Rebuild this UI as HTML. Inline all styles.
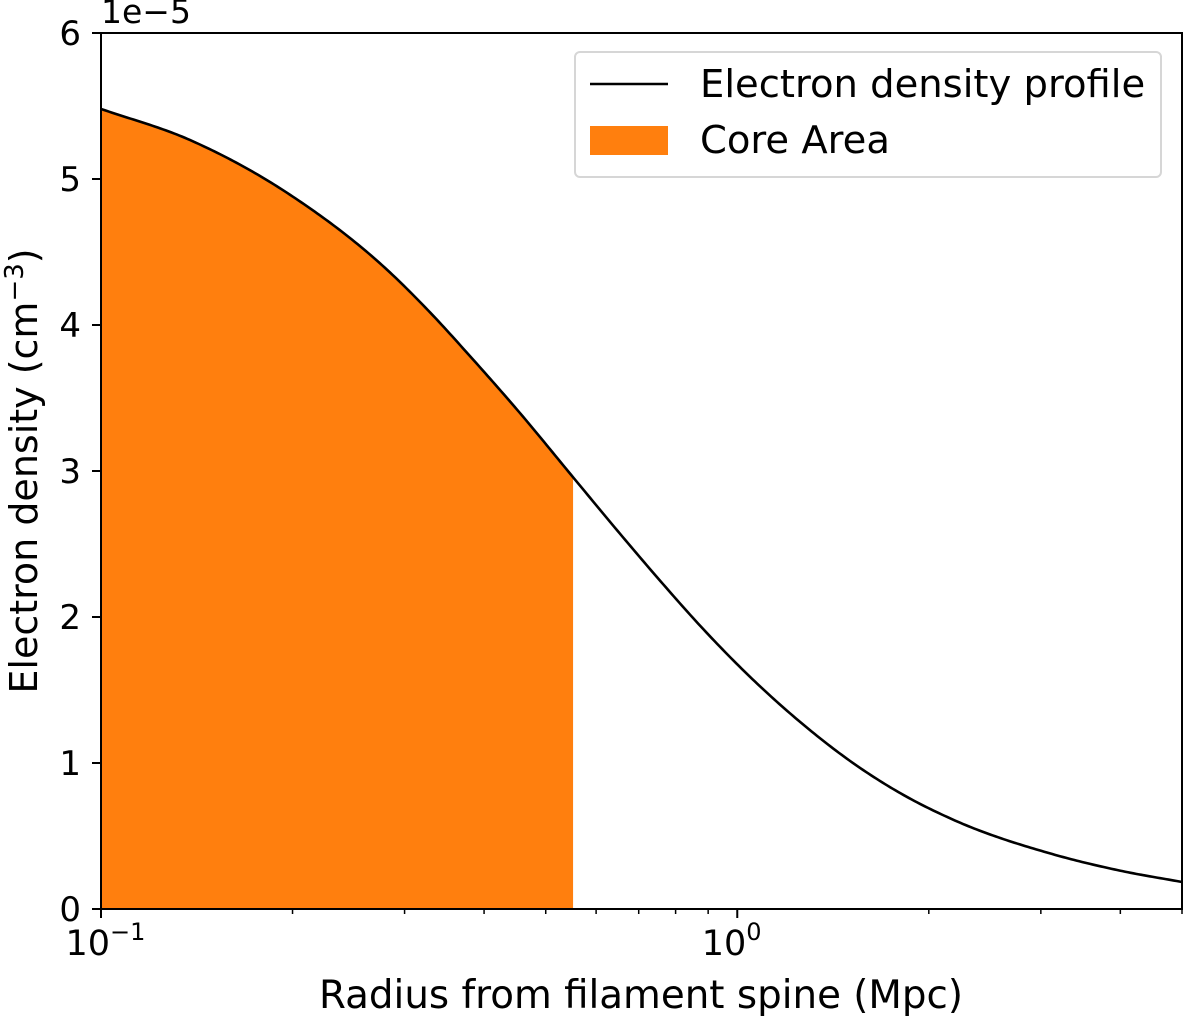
<!DOCTYPE html>
<html><head><meta charset="utf-8"><style>
body{margin:0;background:#fff;position:relative}
svg{display:block;font-family:"DejaVu Sans","Liberation Sans",sans-serif}
</style></head><body>
<svg id="chart" width="1200" height="1018" viewBox="0 0 1200 1018" xmlns="http://www.w3.org/2000/svg">
<g id="plot"></g>
</svg>
<script>
const radii = [0.1, 0.138, 0.1985, 0.2852, 0.3297, 0.3812, 0.4569, 0.5516, 0.6566, 0.7593, 0.8777, 1.052, 1.261, 1.512, 1.813, 2.173, 3.123, 4.024, 5.0];
const densities = [5.48, 5.267, 4.890, 4.356, 4.082, 3.781, 3.390, 2.959, 2.562, 2.240, 1.932, 1.582, 1.274, 1.007, 0.788, 0.616, 0.377, 0.260, 0.185];
const coreRadius = 0.552;
const yTicks = [0, 1, 2, 3, 4, 5, 6];
const xMajorTicks = [0.1, 1];
const xMajorLabels = ["10", "10"];
const xMajorExp = ["\u22121", "0"];
const xMinorTicks = [0.2,0.3,0.4,0.5,0.6,0.7,0.8,0.9,2,3,4,5];

const L=101,R=1182,T=33,B=909;
const xMin=0.1,xMax=5,yMin=0,yMax=6;
const xs=v=>L+(Math.log10(v)-Math.log10(xMin))/(Math.log10(xMax)-Math.log10(xMin))*(R-L);
const ys=v=>B-(v-yMin)/(yMax-yMin)*(B-T);
const NS="http://www.w3.org/2000/svg";
const g=document.getElementById('plot');
function mk(t,a,p){const e=document.createElementNS(NS,t);for(const k in a)e.setAttribute(k,a[k]);(p||g).appendChild(e);return e;}

const lx=radii.map(Math.log10);
const n=lx.length;
const slopes=[];
for(let k=0;k<n-1;k++)slopes.push((densities[k+1]-densities[k])/(lx[k+1]-lx[k]));
const m=[];
for(let k=0;k<n;k++){
  if(k==0)m.push(slopes[0]);
  else if(k==n-1)m.push(slopes[n-2]);
  else {const h0=lx[k]-lx[k-1],h1=lx[k+1]-lx[k];m.push((slopes[k-1]*h1+slopes[k]*h0)/(h0+h1));}
}
function interp(x){
  const t=Math.log10(x);
  let i=0;while(i<n-2&&t>lx[i+1])i++;
  const h=lx[i+1]-lx[i],s=(t-lx[i])/h;
  const h00=2*s*s*s-3*s*s+1,h10=s*s*s-2*s*s+s,h01=-2*s*s*s+3*s*s,h11=s*s*s-s*s;
  return h00*densities[i]+h10*h*m[i]+h01*densities[i+1]+h11*h*m[i+1];
}
const N=400;const pts=[];const fillPts=[];
for(let k=0;k<=N;k++){
  const x=Math.pow(10,lx[0]+(lx[n-1]-lx[0])*k/N);
  pts.push([xs(x),ys(interp(x))]);
}
for(let k=0;k<=200;k++){
  const x=Math.pow(10,lx[0]+(Math.log10(coreRadius)-lx[0])*k/200);
  fillPts.push([xs(x),ys(interp(x))]);
}
const fd="M"+xs(radii[0])+","+ys(0)+" "+fillPts.map(p=>"L"+p[0].toFixed(2)+","+p[1].toFixed(2)).join(" ")+" L"+xs(coreRadius)+","+ys(0)+"Z";
const area=mk('path',{d:fd,fill:'#ff7f0e'});


const line=mk('path',{d:"M"+pts.map(p=>p[0].toFixed(2)+","+p[1].toFixed(2)).join(" L"),fill:'none',stroke:'#000','stroke-width':2.6});



const frame=mk('rect',{x:L,y:T,width:R-L,height:B-T,fill:'none',stroke:'#000','stroke-width':2});



yTicks.forEach(v=>{
  const y=ys(v);
  const tk=mk('line',{x1:L-9,x2:L,y1:y,y2:y,stroke:'#000','stroke-width':2});
  
  
  const tx=mk('text',{x:L-20,y:y+12,'text-anchor':'end','font-size':34});
  tx.textContent=v;
  
  
});
xMajorTicks.forEach((v,i)=>{
  const x=xs(v);
  const tk=mk('line',{x1:x,x2:x,y1:B,y2:B+9,stroke:'#000','stroke-width':2});
  
  
  const tx=mk('text',{x:x+9,y:B+46,'text-anchor':'end','font-size':35});
  tx.textContent=xMajorLabels[i];
  
  
  const ex=mk('text',{x:x+9,y:B+31,'font-size':24});
  ex.textContent=xMajorExp[i];
  
  
});
xMinorTicks.forEach(v=>{
  const x=xs(v);
  const tk=mk('line',{x1:x,x2:x,y1:B,y2:B+5,stroke:'#000','stroke-width':1.5});
  
  
});
</script>
<svg style="position:absolute;left:0;top:0" width="1200" height="1018" xmlns="http://www.w3.org/2000/svg" font-family="DejaVu Sans, Liberation Sans, sans-serif">
<text x="101" y="23" font-size="33">1e−5</text>
<text x="641" y="1008" text-anchor="middle" font-size="38.8">Radius from filament spine (Mpc)</text>
<text transform="translate(37,471) rotate(-90)" text-anchor="middle" font-size="38">Electron density (cm<tspan font-size="26" dy="-14">−3</tspan><tspan dy="14">)</tspan></text>
<g>
<rect x="575" y="52" width="586" height="125" rx="5" fill="#fff" fill-opacity="0.8" stroke="#d6d6d6" stroke-width="2"/>
<line x1="590" x2="668" y1="84" y2="84" stroke="#000" stroke-width="2.6"/>
<text x="700" y="97" font-size="38.5">Electron density profile</text>
<rect x="590" y="126" width="78" height="29" fill="#ff7f0e"/>
<text x="700" y="153" font-size="38.5">Core Area</text>
</g>
</svg>
</body></html>
